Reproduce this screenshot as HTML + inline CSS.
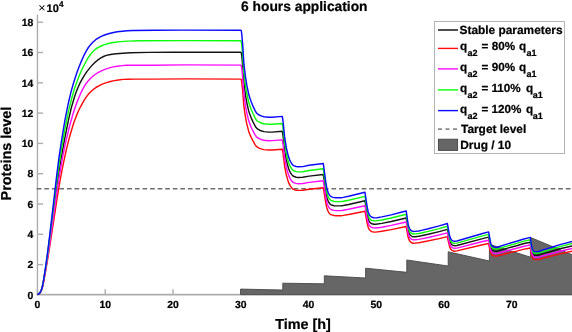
<!DOCTYPE html>
<html><head><meta charset="utf-8"><style>
html,body{margin:0;padding:0;background:#fff;}
body{width:572px;height:332px;overflow:hidden;}
svg{display:block;will-change:transform;text-rendering:geometricPrecision;font-family:"Liberation Sans",sans-serif;font-weight:bold;}
text{stroke:#000;stroke-width:0.22px;}
</style></head><body>
<svg width="572" height="332" viewBox="0 0 572 332">
<rect width="572" height="332" fill="#fff"/>
<g stroke="#adadad" stroke-width="1.4">
<line x1="37.45" y1="14.5" x2="37.45" y2="295.20000000000005"/>
<line x1="36.85" y1="294.6" x2="572" y2="294.6" stroke-width="1.8"/>
<line x1="37.45" y1="294.6" x2="37.45" y2="289.20000000000005"/><line x1="105.21" y1="294.6" x2="105.21" y2="289.20000000000005"/><line x1="172.97" y1="294.6" x2="172.97" y2="289.20000000000005"/><line x1="240.73" y1="294.6" x2="240.73" y2="289.20000000000005"/><line x1="308.49" y1="294.6" x2="308.49" y2="289.20000000000005"/><line x1="376.25" y1="294.6" x2="376.25" y2="289.20000000000005"/><line x1="444.01" y1="294.6" x2="444.01" y2="289.20000000000005"/><line x1="511.77" y1="294.6" x2="511.77" y2="289.20000000000005"/><line x1="37.45" y1="264.60" x2="43.050000000000004" y2="264.60"/><line x1="37.45" y1="234.30" x2="43.050000000000004" y2="234.30"/><line x1="37.45" y1="204.00" x2="43.050000000000004" y2="204.00"/><line x1="37.45" y1="173.70" x2="43.050000000000004" y2="173.70"/><line x1="37.45" y1="143.40" x2="43.050000000000004" y2="143.40"/><line x1="37.45" y1="113.10" x2="43.050000000000004" y2="113.10"/><line x1="37.45" y1="82.80" x2="43.050000000000004" y2="82.80"/><line x1="37.45" y1="52.50" x2="43.050000000000004" y2="52.50"/><line x1="37.45" y1="22.20" x2="43.050000000000004" y2="22.20"/>
</g>
<path d="M240.6,294.6 L240.6,289.1 L282.8,290.0 L282.8,283.2 L324.3,283.8 L324.3,275.8 L365.6,278.0 L365.6,268.2 L406.8,272.3 L406.8,260.0 L448.2,266.0 L448.2,251.8 L489.4,261.0 L489.4,244.3 L530.6,257.2 L530.6,237.5 L574,255.5 L574,294.6Z" fill="#666666" stroke="#474747" stroke-width="0.9" stroke-linejoin="miter"/>
<line x1="36.7" y1="188.8" x2="572" y2="188.8" stroke="#6e6e6e" stroke-width="1.6" stroke-dasharray="4.7 2.858"/>
<g fill="none" stroke-width="1.45" stroke-linejoin="round">
<path d="M37.5,294.6 38.4,294.2 39.1,293.7 39.8,293.0 40.3,292.2 41.2,290.5 42.4,286.8 43.6,280.9 45.3,271.0 47.0,260.1 55.5,195.8 58.4,176.1 61.2,158.3 64.7,138.6 68.5,119.9 71.5,107.1 74.3,97.5 75.9,92.8 77.7,88.2 79.7,83.7 82.0,79.3 84.5,75.1 86.7,71.9 89.8,67.9 92.4,64.9 95.3,62.1 97.6,60.2 100.9,57.9 103.5,56.5 106.3,55.4 109.2,54.7 112.1,54.2 116.2,53.7 123.2,53.2 130.2,52.8 149.1,52.4 172.1,52.2 240.8,52.3 241.3,52.8 241.8,56.2 242.6,64.5 243.8,81.8 244.6,88.6 245.6,95.8 246.8,102.7 248.6,110.6 249.6,113.8 251.3,118.1 253.1,122.1 255.1,126.0 256.1,127.6 257.4,128.9 259.6,130.2 261.9,131.0 263.9,131.6 268.6,132.1 271.9,132.1 282.3,131.3 283.1,136.1 284.6,150.1 286.3,159.9 287.6,165.1 288.8,169.0 290.1,172.1 291.6,174.4 292.6,175.6 293.6,176.3 296.1,177.2 298.1,177.5 302.8,177.3 309.1,176.1 323.3,174.5 325.8,191.7 326.8,196.9 327.3,198.9 328.3,201.5 329.1,202.8 329.8,203.7 330.8,204.6 331.6,205.0 334.1,205.7 335.8,205.9 341.1,205.8 343.3,205.5 348.6,204.5 365.0,200.8 367.0,213.5 368.2,218.9 368.8,220.4 369.2,221.4 370.5,222.9 371.8,223.8 373.8,224.2 375.8,224.3 381.8,223.4 391.2,221.5 406.2,218.0 407.7,227.6 408.2,230.2 408.7,232.0 409.4,233.8 410.2,235.0 411.4,236.0 412.4,236.6 413.2,236.8 415.2,236.7 418.7,236.3 421.4,235.8 428.2,234.3 439.2,231.6 447.4,229.4 448.4,234.9 449.6,240.7 450.4,242.6 451.1,244.0 451.6,244.5 452.9,245.3 453.9,245.6 454.6,245.7 456.9,245.5 482.6,238.6 488.6,237.1 490.4,246.1 490.9,248.0 491.1,248.5 491.9,249.7 492.6,250.4 493.9,250.9 495.4,251.2 496.6,251.2 497.9,251.0 507.6,248.1 516.6,245.7 523.1,243.8 530.3,242.2 531.0,247.2 531.8,250.8 532.3,252.6 532.8,253.6 533.5,254.6 534.0,255.0 535.8,255.2 537.8,255.2 539.5,254.8 543.0,253.6 551.8,251.2 560.0,248.8 574.0,245.5" stroke="#141414"/><path d="M37.5,294.6 38.4,294.2 39.2,293.7 39.8,293.1 40.9,291.5 42.0,288.8 43.0,285.0 45.4,272.1 47.8,258.3 50.3,242.6 57.4,196.3 59.9,181.5 62.5,167.7 66.0,151.2 69.6,136.7 73.0,125.3 74.6,120.6 76.4,115.9 78.3,111.3 80.5,106.8 82.9,102.3 85.0,98.9 87.3,95.6 89.2,93.3 91.3,91.2 93.5,89.3 95.9,87.5 99.3,85.6 102.8,83.9 106.5,82.6 110.4,81.5 114.3,80.6 118.3,80.0 123.3,79.4 128.3,79.2 134.3,79.1 153.2,79.1 185.1,78.9 240.8,79.1 241.3,79.5 241.8,82.6 242.6,89.9 243.8,105.3 244.6,111.4 245.6,117.8 246.8,123.9 248.6,130.9 249.6,133.8 251.3,137.6 253.1,141.2 255.1,144.6 256.1,146.1 257.4,147.2 259.6,148.4 261.9,149.1 263.9,149.6 268.6,150.0 271.9,150.0 282.3,149.3 283.1,153.6 284.6,166.0 286.3,174.8 287.6,179.4 288.8,182.9 290.1,185.6 291.6,187.7 292.6,188.8 293.6,189.4 296.1,190.2 298.1,190.4 302.8,190.3 309.1,189.2 323.3,187.7 325.8,203.1 326.8,207.7 327.3,209.4 328.3,211.8 329.1,213.0 329.8,213.7 330.8,214.5 331.6,214.9 334.1,215.5 335.8,215.7 341.1,215.7 343.3,215.4 348.6,214.5 365.0,211.2 367.0,222.5 368.2,227.3 368.8,228.6 369.2,229.5 370.5,230.8 371.8,231.6 373.8,232.0 375.8,232.1 381.8,231.3 391.2,229.6 406.2,226.5 407.7,235.0 408.2,237.3 408.7,238.9 409.4,240.5 410.2,241.6 411.4,242.5 412.4,243.0 413.2,243.2 415.2,243.1 418.7,242.7 421.4,242.3 439.2,238.6 447.4,236.6 448.4,241.5 449.6,246.7 450.4,248.4 451.1,249.6 451.6,250.1 452.9,250.7 454.6,251.2 456.9,250.9 482.6,244.8 488.6,243.5 490.4,251.5 491.1,253.6 491.9,254.6 492.6,255.3 493.9,255.7 495.4,256.0 496.6,256.0 497.9,255.8 507.6,253.2 516.6,251.1 523.1,249.4 530.3,248.0 531.0,252.4 531.8,255.7 532.3,257.2 532.8,258.1 533.5,259.0 534.0,259.4 537.8,259.5 539.5,259.2 543.0,258.1 560.0,253.9 574.0,250.9" stroke="#ff0a0a"/><path d="M37.5,294.6 38.4,294.2 39.2,293.7 39.8,293.1 40.8,291.5 41.9,288.8 42.9,284.9 45.4,271.0 48.0,255.2 50.4,238.5 57.3,189.0 59.8,173.2 62.2,159.4 65.5,142.8 69.0,128.3 72.7,114.9 74.5,109.3 76.5,103.6 78.7,98.0 80.7,93.3 82.5,89.6 84.5,86.0 86.7,82.7 88.6,80.4 90.6,78.2 92.8,76.3 95.1,74.5 98.4,72.4 102.0,70.6 105.6,69.1 109.4,67.9 113.3,66.9 117.3,66.2 122.2,65.6 126.2,65.3 131.2,65.1 153.2,65.3 184.1,64.9 240.8,65.1 241.3,65.5 241.8,68.8 242.6,76.6 243.8,93.0 244.6,99.5 245.6,106.3 246.8,112.8 248.6,120.3 249.6,123.3 251.3,127.5 253.1,131.2 255.1,134.9 256.1,136.4 257.4,137.7 259.6,138.9 261.9,139.7 263.9,140.2 268.6,140.7 271.9,140.6 282.3,139.9 283.1,144.5 284.6,157.7 286.3,167.0 287.6,171.9 288.8,175.6 290.1,178.6 291.6,180.8 292.6,181.9 293.6,182.6 296.1,183.4 298.1,183.7 302.8,183.5 309.1,182.4 323.3,180.8 325.8,197.2 326.8,202.1 327.3,203.9 328.3,206.4 329.1,207.7 329.8,208.5 330.8,209.3 331.6,209.8 334.1,210.4 335.8,210.6 341.1,210.5 343.3,210.2 348.6,209.3 365.0,205.8 367.0,217.8 368.2,222.9 368.8,224.3 369.2,225.2 370.5,226.7 371.8,227.5 373.8,227.9 375.8,228.0 381.8,227.2 391.2,225.4 406.2,222.0 407.7,231.2 408.2,233.6 408.7,235.3 409.4,237.0 410.2,238.2 411.4,239.1 412.4,239.6 413.2,239.8 415.2,239.7 418.7,239.4 421.4,238.9 428.2,237.5 439.2,234.9 447.4,232.9 448.4,238.0 449.6,243.6 450.4,245.4 451.1,246.6 451.6,247.2 452.9,247.9 453.9,248.2 454.6,248.3 456.9,248.1 482.6,241.5 488.6,240.2 490.4,248.7 491.1,250.9 491.9,252.0 492.6,252.7 493.9,253.2 495.4,253.5 496.6,253.5 497.9,253.3 507.6,250.5 516.6,248.3 523.1,246.5 530.3,244.9 531.0,249.7 531.8,253.2 532.3,254.8 532.8,255.7 533.5,256.7 534.0,257.1 535.8,257.2 537.8,257.3 539.5,256.9 543.0,255.8 551.8,253.5 560.0,251.2 574.0,248.1" stroke="#ff0aff"/><path d="M37.5,294.6 38.4,294.2 39.1,293.6 39.8,293.0 40.8,291.4 41.5,289.7 42.1,287.8 43.1,282.9 45.3,270.0 47.5,255.1 56.5,183.0 59.0,165.2 61.5,148.4 64.8,129.7 68.1,113.0 71.4,99.4 73.0,93.7 74.7,88.0 76.7,82.4 78.8,76.8 81.1,71.3 83.3,66.8 86.0,61.5 88.5,57.2 90.8,54.0 92.7,51.7 94.9,49.7 97.4,47.9 100.1,46.5 103.8,44.9 107.6,43.7 111.4,42.8 115.4,42.2 120.3,41.6 128.2,41.1 139.2,40.8 184.1,40.6 240.8,40.7 241.3,41.2 241.8,44.8 242.6,53.5 243.8,71.6 244.6,78.7 245.6,86.3 246.8,93.5 248.6,101.8 249.6,105.1 251.3,109.7 253.1,113.8 255.1,117.9 256.1,119.6 256.6,120.3 257.4,121.0 258.4,121.7 259.6,122.3 261.9,123.2 263.9,123.8 268.6,124.3 271.9,124.3 282.3,123.5 283.1,128.5 284.6,143.1 286.3,153.4 287.6,158.9 288.8,163.0 290.1,166.2 291.6,168.7 292.6,169.9 293.6,170.7 296.1,171.6 298.1,171.9 302.8,171.7 309.1,170.5 323.3,168.7 325.8,186.8 326.8,192.3 327.3,194.3 328.3,197.0 329.1,198.4 329.8,199.3 330.8,200.3 331.6,200.7 334.1,201.4 335.8,201.6 341.1,201.6 343.3,201.3 348.6,200.2 365.0,196.4 367.0,209.6 368.2,215.3 368.8,216.8 369.2,217.9 370.5,219.5 371.8,220.4 373.8,220.8 375.8,220.9 381.8,220.0 391.2,218.0 406.2,214.3 407.7,224.4 408.2,227.1 408.7,229.0 409.4,230.9 410.2,232.2 411.4,233.2 412.4,233.8 413.2,234.0 415.2,233.9 418.7,233.5 421.4,233.0 428.2,231.4 439.2,228.6 447.4,226.3 448.4,232.0 449.6,238.1 450.4,240.1 451.1,241.5 451.6,242.1 452.9,242.9 453.9,243.3 454.6,243.4 456.9,243.1 482.6,235.9 488.6,234.4 490.4,243.8 490.9,245.7 491.1,246.3 491.9,247.5 492.6,248.3 493.9,248.8 495.4,249.1 496.6,249.1 497.9,248.9 507.6,245.9 516.6,243.4 523.1,241.4 530.3,239.7 531.0,244.9 531.8,248.7 532.3,250.6 532.8,251.6 533.5,252.7 534.0,253.1 535.8,253.3 537.8,253.3 539.5,252.9 543.0,251.7 551.8,249.1 560.0,246.6 574.0,243.1" stroke="#0aff0a"/><path d="M37.5,294.6 38.4,294.1 39.7,292.9 40.3,292.2 41.2,290.5 42.1,287.8 43.1,282.9 45.3,268.9 47.5,253.1 49.7,235.3 56.7,175.7 59.1,156.9 61.6,140.1 64.9,120.4 68.0,104.7 71.2,91.2 73.1,84.5 74.9,78.7 77.1,72.1 79.2,66.5 81.5,60.9 84.0,55.3 86.3,50.9 88.4,47.5 90.8,44.4 92.8,42.3 95.7,39.7 98.1,38.1 100.7,36.6 104.5,35.0 108.4,33.8 112.4,32.8 117.3,31.8 122.3,31.2 127.2,30.8 133.2,30.5 155.1,30.2 183.1,30.1 240.8,30.2 241.3,30.7 241.8,34.5 242.6,43.5 243.8,62.4 244.6,69.8 245.6,77.6 246.8,85.2 248.6,93.8 249.6,97.3 251.3,102.0 253.1,106.4 255.1,110.6 256.1,112.4 256.6,113.1 257.4,113.8 258.4,114.5 259.6,115.2 261.9,116.1 263.9,116.7 268.6,117.3 271.9,117.2 282.3,116.4 283.1,121.7 284.6,136.9 286.3,147.6 287.6,153.2 288.8,157.6 290.1,160.9 291.6,163.5 292.6,164.7 293.6,165.6 296.1,166.5 298.1,166.8 302.8,166.6 309.1,165.3 323.3,163.5 325.8,182.4 326.8,188.0 327.3,190.1 328.3,193.0 329.1,194.4 329.8,195.4 330.8,196.4 331.6,196.9 334.1,197.6 335.8,197.8 341.1,197.8 343.3,197.4 348.6,196.3 365.0,192.3 367.0,206.1 368.2,212.0 368.8,213.6 369.2,214.7 370.5,216.3 371.8,217.3 373.8,217.8 375.8,217.9 377.2,217.7 381.8,216.9 391.2,214.9 402.0,212.0 406.2,211.0 407.7,221.5 408.2,224.4 408.7,226.3 409.4,228.3 410.2,229.6 411.4,230.7 412.4,231.3 413.2,231.5 415.2,231.4 418.7,231.0 421.4,230.4 428.2,228.8 439.2,225.9 447.4,223.5 448.4,229.4 449.6,235.8 450.4,237.9 451.1,239.4 451.6,240.0 452.9,240.8 453.9,241.2 454.6,241.3 456.9,241.0 482.6,233.5 488.6,231.9 490.4,241.7 490.9,243.7 491.1,244.3 491.9,245.6 492.6,246.4 493.9,246.9 495.4,247.3 496.6,247.3 497.9,247.0 507.6,243.9 516.6,241.3 523.1,239.2 530.3,237.4 531.0,242.8 531.8,246.9 532.3,248.8 532.8,249.8 533.5,251.0 534.0,251.4 535.8,251.6 537.8,251.6 539.5,251.2 543.0,249.9 551.8,247.3 560.0,244.6 574.0,241.0" stroke="#0a0aff"/>
</g>
<g font-size="10.4" fill="#000"><text x="37.45" y="307.6" text-anchor="middle">0</text><text x="105.21" y="307.6" text-anchor="middle">10</text><text x="172.97" y="307.6" text-anchor="middle">20</text><text x="240.73" y="307.6" text-anchor="middle">30</text><text x="308.49" y="307.6" text-anchor="middle">40</text><text x="376.25" y="307.6" text-anchor="middle">50</text><text x="444.01" y="307.6" text-anchor="middle">60</text><text x="511.77" y="307.6" text-anchor="middle">70</text><text x="33.4" y="298.60" text-anchor="end">0</text><text x="33.4" y="268.30" text-anchor="end">2</text><text x="33.4" y="238.00" text-anchor="end">4</text><text x="33.4" y="207.70" text-anchor="end">6</text><text x="33.4" y="177.40" text-anchor="end">8</text><text x="33.4" y="147.10" text-anchor="end">10</text><text x="33.4" y="116.80" text-anchor="end">12</text><text x="33.4" y="86.50" text-anchor="end">14</text><text x="33.4" y="56.20" text-anchor="end">16</text><text x="33.4" y="25.90" text-anchor="end">18</text></g>
<text x="304.3" y="11.1" font-size="13.8" text-anchor="middle">6 hours application</text>
<text x="303" y="328.6" font-size="14.4" text-anchor="middle">Time [h]</text>
<text transform="translate(11.4,153.6) rotate(-90)" font-size="14.4" text-anchor="middle">Proteins level</text>
<text x="38.3" y="12.3" font-size="12.6" font-weight="normal" style="stroke:none">×</text>
<text x="46.6" y="12.0" font-size="11">10</text>
<text x="59.0" y="6.7" font-size="8.2">4</text>
<g>
<rect x="434.5" y="21.5" width="130" height="132" fill="#fff" stroke="#b4b4b4" stroke-width="1"/>
<line x1="438" y1="30" x2="458" y2="30" stroke="#3c3c3c" stroke-width="1.8"/>
<line x1="438" y1="48.4" x2="458" y2="48.4" stroke="#ff0a0a" stroke-width="1.4"/>
<line x1="438" y1="68.9" x2="458" y2="68.9" stroke="#ff0aff" stroke-width="1.4"/>
<line x1="438" y1="89.9" x2="458" y2="89.9" stroke="#0aff0a" stroke-width="1.4"/>
<line x1="438" y1="110.6" x2="458" y2="110.6" stroke="#0a0aff" stroke-width="1.4"/>
<line x1="438" y1="129.1" x2="458" y2="129.1" stroke="#8a8a8a" stroke-width="1.6" stroke-dasharray="4 3.5"/>
<rect x="438.4" y="139.2" width="19.2" height="11.2" fill="#666" stroke="#444" stroke-width="0.9"/>
<g font-size="11.7" fill="#000">
<text x="459.5" y="34.4" font-size="11.9">Stable parameters</text>
<text x="460.0" y="50.2">q</text><text x="467.6" y="56.0" font-size="9">a2</text><text x="481.4" y="50.2">=</text><text x="491.8" y="50.2">80%</text><text x="519.0" y="50.2">q</text><text x="526.6" y="56.0" font-size="9">a1</text><text x="460.0" y="71.0">q</text><text x="467.6" y="76.8" font-size="9">a2</text><text x="481.4" y="71.0">=</text><text x="491.8" y="71.0">90%</text><text x="519.0" y="71.0">q</text><text x="526.6" y="76.8" font-size="9">a1</text><text x="460.0" y="92.2">q</text><text x="467.6" y="98.0" font-size="9">a2</text><text x="481.4" y="92.2">=</text><text x="491.4" y="92.2">110%</text><text x="526.0" y="92.2">q</text><text x="532.8" y="98.0" font-size="9">a1</text><text x="460.0" y="113.1">q</text><text x="467.6" y="118.89999999999999" font-size="9">a2</text><text x="481.4" y="113.1">=</text><text x="491.4" y="113.1">120%</text><text x="526.0" y="113.1">q</text><text x="532.8" y="118.89999999999999" font-size="9">a1</text>
<text x="461.0" y="133.2" font-size="11.9">Target level</text>
<text x="460.2" y="148.9" font-size="11.9">Drug / 10</text>
</g>
</g>
</svg>
</body></html>
